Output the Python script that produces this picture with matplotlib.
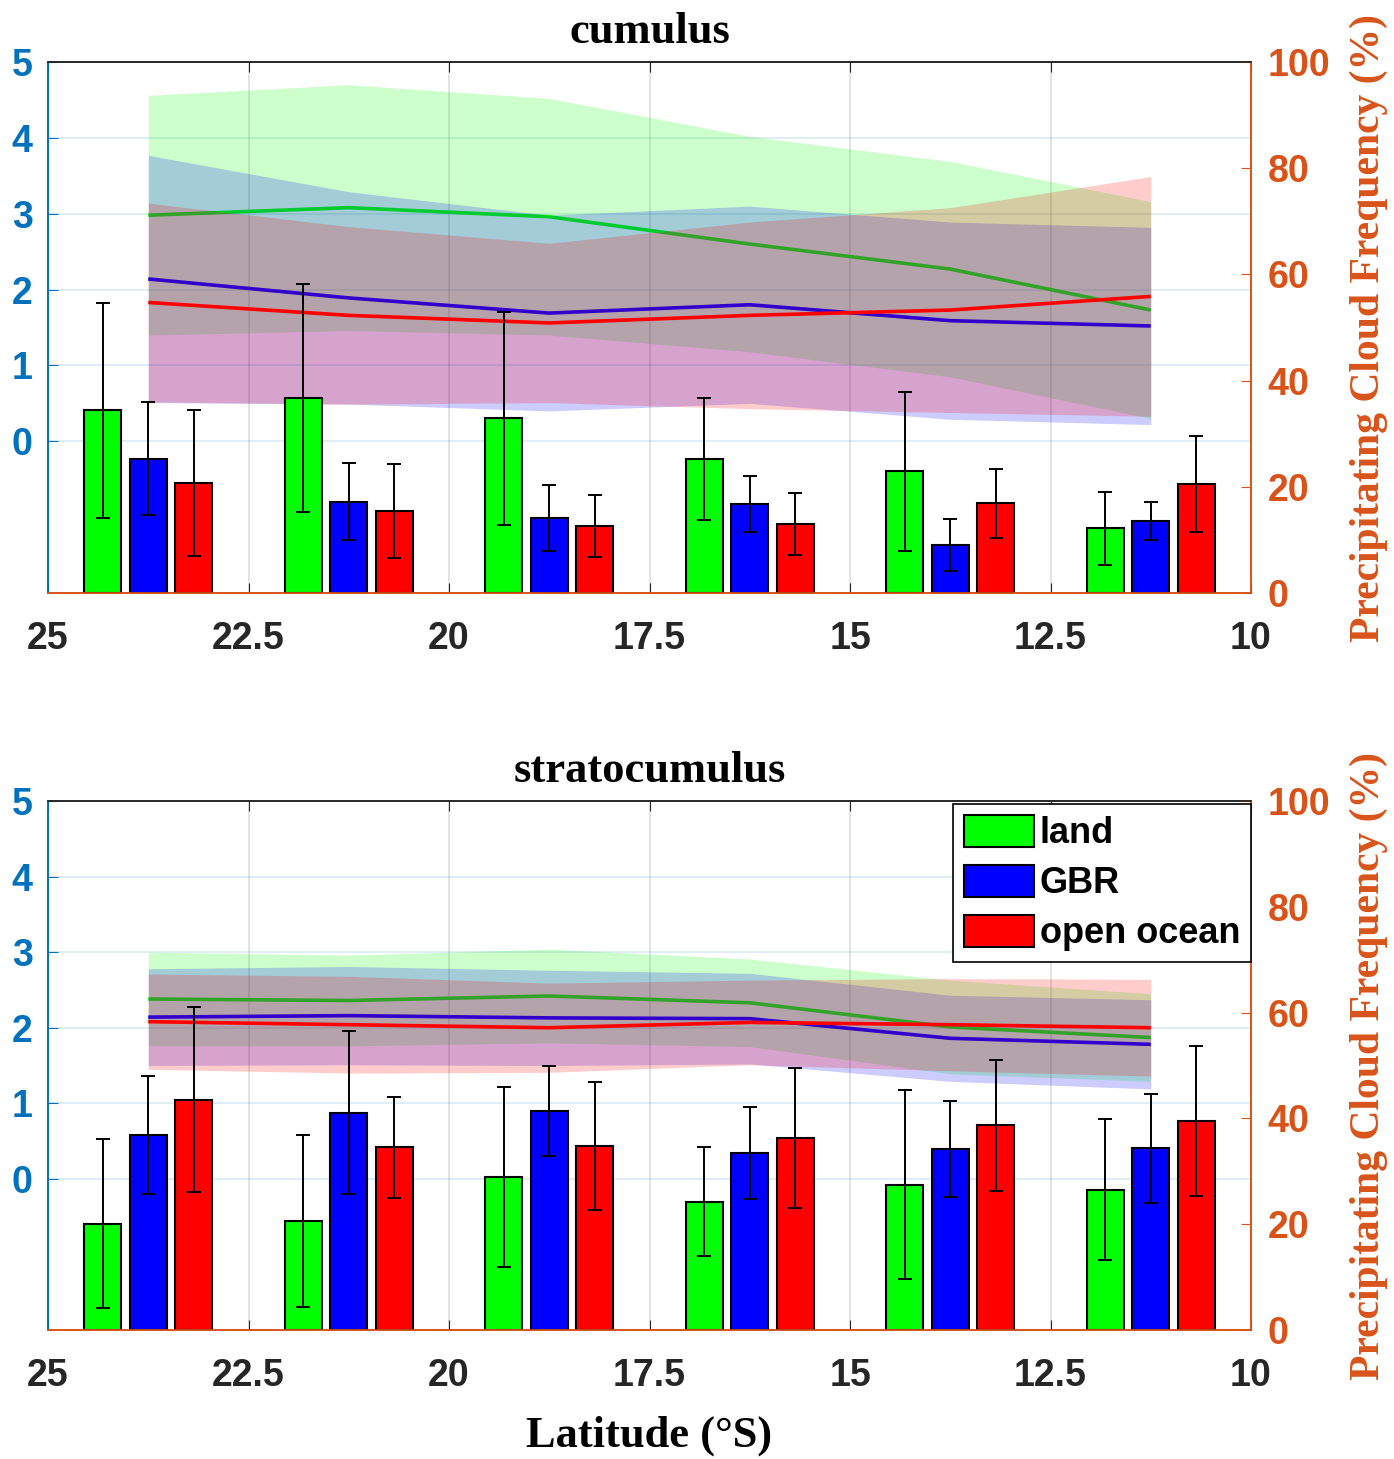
import matplotlib
matplotlib.use("Agg")
import matplotlib.pyplot as plt
import numpy as np

# ---------------- data ----------------
lat = [23.75, 21.25, 18.75, 16.25, 13.75, 11.25]
xticks = [25, 22.5, 20, 17.5, 15, 12.5, 10]
xticklabels = ["25", "22.5", "20", "17.5", "15", "12.5", "10"]
left_ticks = [0, 1, 2, 3, 4, 5]
right_ticks = [0, 20, 40, 60, 80, 100]
series = ["land", "GBR", "open ocean"]
titles = ["cumulus", "stratocumulus"]

# cumulus – precipitating cloud frequency (%), bars with std
cu_freq_land = [34.4, 36.7, 32.9, 25.2, 22.9, 12.2]
cu_freq_land_err = [20.2, 21.5, 20.0, 11.5, 15.0, 6.9]
cu_freq_gbr = [25.3, 17.2, 14.2, 16.8, 9.1, 13.6]
cu_freq_gbr_err = [10.6, 7.3, 6.2, 5.3, 4.9, 3.6]
cu_freq_ocean = [20.7, 15.4, 12.6, 13.0, 16.9, 20.5]
cu_freq_ocean_err = [13.7, 8.9, 5.8, 5.8, 6.5, 9.0]

# cumulus – left-axis quantity, mean and std
cu_mean_land = [2.98, 3.08, 2.96, 2.60, 2.27, 1.73]
cu_std_land = [1.58, 1.62, 1.56, 1.42, 1.42, 1.43]
cu_mean_gbr = [2.14, 1.89, 1.69, 1.80, 1.59, 1.52]
cu_std_gbr = [1.63, 1.40, 1.29, 1.30, 1.30, 1.30]
cu_mean_ocean = [1.83, 1.66, 1.56, 1.66, 1.73, 1.91]
cu_std_ocean = [1.31, 1.17, 1.05, 1.23, 1.35, 1.58]

# stratocumulus – precipitating cloud frequency (%)
sc_freq_land = [20.1, 20.6, 28.9, 24.2, 27.5, 26.5]
sc_freq_land_err = [16.0, 16.2, 17.0, 10.3, 17.8, 13.3]
sc_freq_gbr = [36.9, 41.1, 41.4, 33.4, 34.2, 34.4]
sc_freq_gbr_err = [11.1, 15.4, 8.6, 8.7, 9.1, 10.3]
sc_freq_ocean = [43.5, 34.5, 34.8, 36.3, 38.7, 39.5]
sc_freq_ocean_err = [17.5, 9.5, 12.1, 13.3, 12.4, 14.1]

# stratocumulus – left-axis quantity, mean and std
sc_mean_land = [2.38, 2.36, 2.42, 2.33, 2.01, 1.87]
sc_std_land = [0.62, 0.60, 0.62, 0.58, 0.62, 0.58]
sc_mean_gbr = [2.14, 2.16, 2.13, 2.12, 1.86, 1.78]
sc_std_gbr = [0.64, 0.65, 0.63, 0.60, 0.57, 0.59]
sc_mean_ocean = [2.08, 2.04, 2.00, 2.07, 2.04, 2.00]
sc_std_ocean = [0.63, 0.64, 0.59, 0.56, 0.61, 0.64]

# ---------------- style ----------------
plt.rcParams["font.family"] = ["Liberation Sans", "DejaVu Sans"]
plt.rcParams["font.weight"] = "bold"
BLUE_AX = "#0072BD"
ORANGE_AX = "#D95319"
DARK = "#262626"
bar_colors = ["#00ff00", "#0000ff", "#ff0000"]
line_colors = ["#00ff00", "#0000ff", "#ff0000"]
offsets = [0.565, 0.0, -0.565]
bar_width = 0.46

panels = [
    dict(title=titles[0],
         freq=[cu_freq_land, cu_freq_gbr, cu_freq_ocean],
         err=[cu_freq_land_err, cu_freq_gbr_err, cu_freq_ocean_err],
         mean=[cu_mean_land, cu_mean_gbr, cu_mean_ocean],
         std=[cu_std_land, cu_std_gbr, cu_std_ocean]),
    dict(title=titles[1],
         freq=[sc_freq_land, sc_freq_gbr, sc_freq_ocean],
         err=[sc_freq_land_err, sc_freq_gbr_err, sc_freq_ocean_err],
         mean=[sc_mean_land, sc_mean_gbr, sc_mean_ocean],
         std=[sc_std_land, sc_std_gbr, sc_std_ocean]),
]

W, H = 1394, 1459
fig = plt.figure(figsize=(W / 100, H / 100), dpi=100)
rects = [
    [48 / W, 1 - 593 / H, 1203 / W, 531 / H],
    [48 / W, 1 - 1330 / H, 1203 / W, 529 / H],
]

lat_a = np.array(lat)
for i, (p, rect) in enumerate(zip(panels, rects)):
    ax = fig.add_axes(rect)
    ax2 = ax.twinx()
    ax.set_xlim(25, 10)
    ax.set_ylim(-2, 5)
    ax2.set_ylim(0, 100)

    # shaded std bands and mean lines (left axis)
    for k in range(3):
        m = np.array(p["mean"][k])
        s = np.array(p["std"][k])
        ax.fill_between(lat_a, m - s, m + s, color=line_colors[k], alpha=0.2,
                        lw=0, zorder=1 + 0.2 * k)
        ax.plot(lat_a, m, color=line_colors[k], lw=2.6, zorder=1.1 + 0.2 * k,
                solid_capstyle="butt")

    # bars (right axis)
    for k in range(3):
        ax2.bar(lat_a + offsets[k], p["freq"][k], width=bar_width,
                color=bar_colors[k], edgecolor="black", linewidth=1.5,
                yerr=p["err"][k], label=series[k],
                error_kw=dict(ecolor="black", elinewidth=1.4, capsize=5,
                              capthick=1.4))

    # ticks & grid
    ax.set_xticks(xticks)
    ax.set_xticklabels(xticklabels)
    ax.set_yticks(left_ticks)
    ax.set_yticklabels([str(t) for t in left_ticks])
    ax2.set_yticks(right_ticks)
    ax2.set_yticklabels([str(t) for t in right_ticks])

    ax.tick_params(axis="x", direction="in", length=7, top=True, bottom=True,
                   pad=20, labelsize=27, color=DARK, labelcolor=DARK)
    ax.tick_params(axis="y", direction="in", length=7, pad=11, labelsize=27,
                   color=BLUE_AX, labelcolor=BLUE_AX)
    ax2.tick_params(axis="y", direction="in", length=7, pad=12, labelsize=27,
                    color=ORANGE_AX, labelcolor=ORANGE_AX)

    ax.set_axisbelow(True)
    ax.grid(True, axis="y", color=BLUE_AX, alpha=0.15, lw=1.2)
    ax.grid(True, axis="x", color=DARK, alpha=0.15, lw=1.2)

    for a in (ax, ax2):
        a.spines["left"].set_color(BLUE_AX)
        a.spines["right"].set_color(ORANGE_AX)
        a.spines["bottom"].set_color(ORANGE_AX)
        a.spines["top"].set_color(DARK)
        for sp in a.spines.values():
            sp.set_linewidth(1.2)

    ax.set_title(p["title"], family="Liberation Serif", weight="bold",
                 fontsize=32, pad=14)
    ax2.set_ylabel("Precipitating Cloud Frequency (%)", family="Liberation Serif",
                   weight="bold", fontsize=30, color=ORANGE_AX)
    ax2.yaxis.set_label_coords(1.082, 0.5)

    if i == 1:
        ax.set_xlabel("Latitude (°S)", family="Liberation Serif", weight="bold",
                      fontsize=32, labelpad=16)
        leg = ax2.legend(loc="upper right", bbox_to_anchor=(1.0, 1.0 - 3 / 529),
                         borderaxespad=0,
                         prop={"family": "Liberation Sans", "weight": "bold",
                               "size": 26},
                         handlelength=1.95, handleheight=1.0, handletextpad=0.15,
                         labelspacing=0.37, borderpad=0.3, fancybox=False,
                         edgecolor="black", framealpha=1)
        leg.get_frame().set_linewidth(1.2)

fig.savefig("out.png", dpi=100)
